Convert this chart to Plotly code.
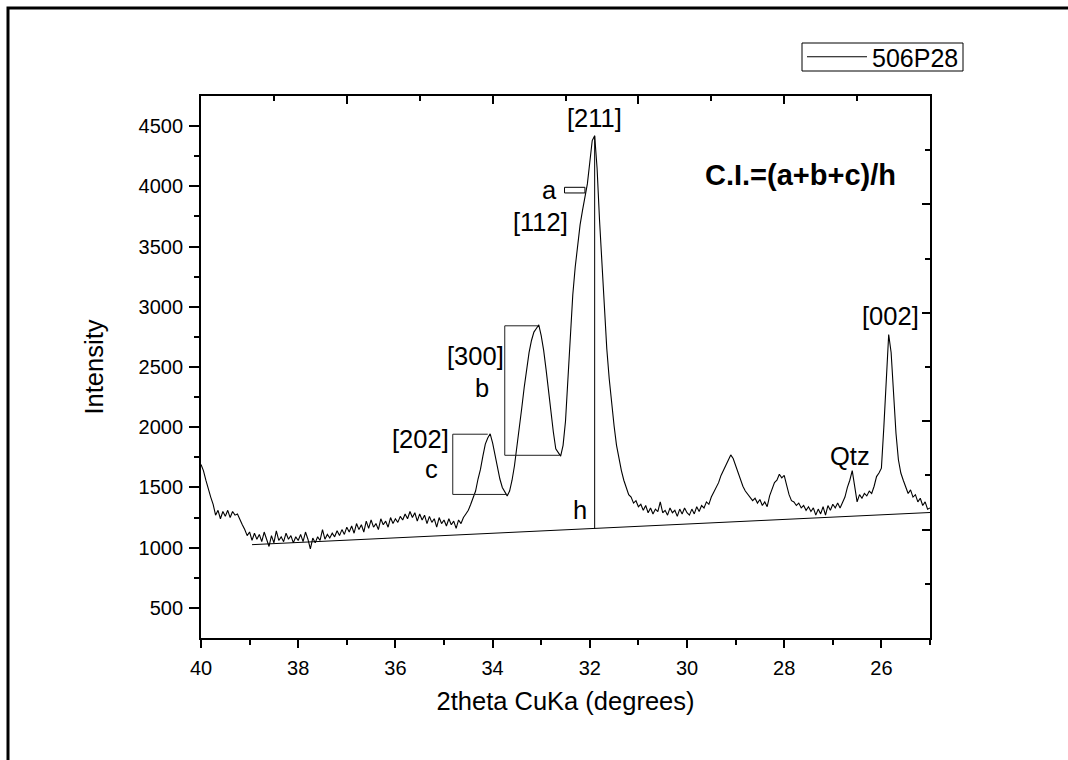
import plotly.graph_objects as go

# ---------------- data ----------------
# intensity read from the pattern, 0.05 deg steps from 40.00 down to 25.00
intensity = [
    # 40.00 .. 39.05
    1690, 1640, 1560, 1480, 1420, 1360, 1270, 1310, 1240, 1300, 1260, 1310, 1250, 1300, 1270, 1280, 1230, 1190, 1150, 1100,
    # 39.00 .. 38.05
    1130, 1060, 1120, 1070, 1110, 1050, 1130, 1060, 1010, 1100, 1040, 1140, 1060, 1090, 1050, 1120, 1070, 1100, 1040, 1090,
    # 38.00 .. 37.05
    1060, 1110, 1050, 1130, 1070, 990, 1080, 1040, 1090, 1060, 1150, 1070, 1110, 1080, 1120, 1090, 1140, 1100, 1150, 1110,
    # 37.00 .. 36.05
    1170, 1130, 1180, 1120, 1200, 1150, 1190, 1130, 1220, 1160, 1230, 1170, 1200, 1150, 1240, 1190, 1220, 1170, 1250, 1200,
    # 36.00 .. 35.05
    1240, 1210, 1260, 1230, 1280, 1240, 1300, 1250, 1290, 1220, 1280, 1230, 1270, 1200, 1260, 1210, 1240, 1170, 1250, 1200,
    # 35.00 .. 34.05
    1230, 1180, 1240, 1190, 1220, 1160, 1230, 1200, 1250, 1280, 1310, 1360, 1420, 1470, 1570, 1650, 1760, 1860, 1910, 1945,
    # 34.00 .. 33.05
    1870, 1760, 1660, 1570, 1500, 1460, 1430, 1470, 1560, 1680, 1830, 1990, 2160, 2330, 2490, 2620, 2720, 2790, 2820, 2850,
    # 33.00 .. 32.05
    2760, 2640, 2480, 2290, 2110, 1960, 1820, 1790, 1760, 1850, 2050, 2400, 2780, 3100, 3330, 3530, 3680, 3800, 3910, 4020,
    # 32.00 .. 31.05
    4200, 4380, 4420, 4150, 3720, 3350, 2950, 2650, 2400, 2180, 2010, 1850, 1730, 1640, 1560, 1490, 1440, 1420, 1370, 1390,
    # 31.00 .. 30.05
    1340, 1360, 1310, 1350, 1290, 1330, 1280, 1320, 1300, 1380, 1290, 1310, 1270, 1330, 1290, 1310, 1260, 1320, 1280, 1330,
    # 30.00 .. 29.05
    1290, 1270, 1320, 1280, 1340, 1300, 1350, 1330, 1380, 1360, 1420, 1460, 1500, 1540, 1600, 1640, 1690, 1720, 1770, 1740,
    # 29.00 .. 28.05
    1680, 1620, 1560, 1510, 1470, 1440, 1420, 1390, 1410, 1370, 1400, 1350, 1380, 1340, 1430, 1490, 1540, 1560, 1610, 1580,
    # 28.00 .. 27.05
    1600, 1520, 1440, 1390, 1380, 1350, 1370, 1330, 1350, 1310, 1340, 1300, 1330, 1270, 1320, 1280, 1340, 1270, 1350, 1310,
    # 27.00 .. 26.05
    1360, 1330, 1370, 1330, 1380, 1420, 1500, 1560, 1640, 1520, 1380, 1440, 1410, 1450, 1430, 1470, 1450, 1510, 1590, 1620,
    # 26.00 .. 25.05
    1660, 2000, 2400, 2770, 2620, 2250, 1950, 1730, 1620, 1560, 1510, 1450, 1480, 1420, 1440, 1380, 1410, 1350, 1380, 1320,
    # 25.00
    1330,
]
scan_start, scan_step = 40.0, 0.05
two_theta = [round(scan_start - scan_step * i, 2) for i in range(len(intensity))]

series_name = "506P28"

# baseline drawn under the pattern
baseline_x = [38.95, 25.0]
baseline_y = [1025, 1292]
# height line h at the [211] peak
h_x = 31.90
h_y = [1160, 4420]
# bracket c around [202]
c_left, c_top_end, c_bot_end = 34.82, 34.10, 33.69
c_top, c_bot = 1942, 1442
# bracket b around [300]
b_left, b_top_end, b_bot_end = 33.75, 33.07, 32.62
b_top, b_bot = 2842, 1767
# small marker for a at [112]
a_x = [32.52, 32.10]
a_y = [3945, 3992]

labels = [
    ("[211]", 31.91, 4566),
    ("a", 32.82, 3969),
    ("[112]", 33.02, 3703),
    ("[300]", 34.36, 2591),
    ("b", 34.22, 2325),
    ("[202]", 35.49, 1902),
    ("c", 35.25, 1653),
    ("h", 32.20, 1313),
    ("Qtz", 26.65, 1761),
    ("[002]", 25.82, 2923),
]
formula_text = ("C.I.=(a+b+c)/h", 27.67, 4093)

x_range = [40, 25]
y_range = [250, 4750]
x_major = [40, 38, 36, 34, 32, 30, 28, 26]
x_minor = [39, 37, 35, 33, 31, 29, 27, 25]
y_major = [500, 1000, 1500, 2000, 2500, 3000, 3500, 4000, 4500]
y_minor = [750, 1250, 1750, 2250, 2750, 3250, 3750, 4250]
top_major = [37, 34, 31, 28]
top_minor = [38.5, 35.5, 32.5, 29.5, 26.5]
right_major = [1150, 2050, 2950, 3850]
right_minor = [700, 1600, 2500, 3400, 4300]

# ---------------- figure ----------------
FONT = "Arial, Liberation Sans, sans-serif"
W, H = 1068, 760
ML, MR, MT, MB = 201, 138, 96, 122
PW, PH = W - ML - MR, H - MT - MB

def px_to_paper_x(px):
    return (px - ML) / PW

def px_to_paper_y(py):
    return (H - MB - py) / PH

fig = go.Figure()
fig.add_trace(go.Scatter(
    x=two_theta, y=intensity, mode="lines", name=series_name,
    line=dict(color="black", width=1.1),
))
# invisible trace so the mirrored top/right tick axes render
fig.add_trace(go.Scatter(
    x=[x_range[0]], y=[y_range[0]], xaxis="x2", yaxis="y2", mode="markers",
    marker=dict(opacity=0), showlegend=False, hoverinfo="skip",
))

shapes = []
line_k = dict(color="black", width=1)
box_k = dict(color="#222", width=1)
shapes.append(dict(type="line", xref="x", yref="y", x0=baseline_x[0], y0=baseline_y[0],
                   x1=baseline_x[1], y1=baseline_y[1], line=line_k))
shapes.append(dict(type="line", xref="x", yref="y", x0=h_x, y0=h_y[0], x1=h_x, y1=h_y[1], line=line_k))
for left, top_end, bot_end, top, bot in [(c_left, c_top_end, c_bot_end, c_top, c_bot),
                                         (b_left, b_top_end, b_bot_end, b_top, b_bot)]:
    shapes.append(dict(type="line", xref="x", yref="y", x0=left, y0=top, x1=top_end, y1=top, line=box_k))
    shapes.append(dict(type="line", xref="x", yref="y", x0=left, y0=top, x1=left, y1=bot, line=box_k))
    shapes.append(dict(type="line", xref="x", yref="y", x0=left, y0=bot, x1=bot_end, y1=bot, line=box_k))
shapes.append(dict(type="rect", xref="x", yref="y", x0=a_x[0], x1=a_x[1], y0=a_y[0], y1=a_y[1],
                   line=dict(color="black", width=1), fillcolor="white"))
# page frame: only its left and top edges fall inside the page
shapes.append(dict(type="rect", xref="paper", yref="paper",
                   x0=px_to_paper_x(8), x1=px_to_paper_x(W + 40),
                   y0=px_to_paper_y(H + 40), y1=px_to_paper_y(8),
                   line=dict(color="black", width=3), fillcolor="rgba(0,0,0,0)"))
# compact border around the legend entry
shapes.append(dict(type="rect", xref="paper", yref="paper",
                   x0=px_to_paper_x(802), x1=px_to_paper_x(963),
                   y0=px_to_paper_y(71), y1=px_to_paper_y(43),
                   line=dict(color="black", width=1), fillcolor="rgba(0,0,0,0)"))

annotations = []
for txt, xv, yv in labels:
    annotations.append(dict(text=txt, x=xv, y=yv, xref="x", yref="y", showarrow=False,
                            xanchor="center", yanchor="middle",
                            font=dict(family=FONT, size=25.5, color="black")))
annotations.append(dict(text="<b>%s</b>" % formula_text[0], x=formula_text[1], y=formula_text[2],
                        xref="x", yref="y", showarrow=False, xanchor="center", yanchor="middle",
                        font=dict(family=FONT, size=29, color="black")))

axis_common = dict(showgrid=False, zeroline=False, color="black")
fig.update_layout(
    width=W, height=H,
    margin=dict(l=ML, r=MR, t=MT, b=MB, autoexpand=False),
    paper_bgcolor="white", plot_bgcolor="white",
    font=dict(family=FONT, size=20, color="black"),
    showlegend=True,
    legend=dict(x=px_to_paper_x(802), y=px_to_paper_y(34), xanchor="left", yanchor="top",
                borderwidth=0, bgcolor="rgba(0,0,0,0)",
                font=dict(family=FONT, size=25), itemwidth=60, tracegroupgap=0),
    xaxis=dict(range=x_range, tickmode="array", tickvals=x_major, ticktext=[str(v) for v in x_major],
               ticks="outside", ticklen=8, tickwidth=1.5, showline=True, linewidth=1.8, linecolor="black",
               mirror=True, minor=dict(tickmode="array", tickvals=x_minor, ticks="outside", ticklen=5,
                                       tickwidth=1.5, tickcolor="black"),
               tickfont=dict(size=20), ticklabelstandoff=3,
               title=dict(text="2theta CuKa (degrees)", font=dict(size=25.5), standoff=14),
               **axis_common),
    yaxis=dict(range=y_range, tickmode="array", tickvals=y_major, ticktext=[str(v) for v in y_major],
               ticks="outside", ticklen=10, tickwidth=1.5, showline=True, linewidth=1.8, linecolor="black",
               mirror=True, minor=dict(tickmode="array", tickvals=y_minor, ticks="outside", ticklen=5,
                                       tickwidth=1.5, tickcolor="black"),
               tickfont=dict(size=20), ticklabelstandoff=2,
               title=dict(text="Intensity", font=dict(size=25.5), standoff=28),
               **axis_common),
    xaxis2=dict(range=x_range, overlaying="x", side="top", anchor="y", tickmode="array", tickvals=top_major,
                ticks="inside", ticklen=8, tickwidth=1.5, showticklabels=False, showline=False,
                minor=dict(tickmode="array", tickvals=top_minor, ticks="inside", ticklen=5,
                           tickwidth=1.5, tickcolor="black"),
                **axis_common),
    yaxis2=dict(range=y_range, overlaying="y", side="right", anchor="x", tickmode="array", tickvals=right_major,
                ticks="inside", ticklen=8, tickwidth=1.5, showticklabels=False, showline=False,
                minor=dict(tickmode="array", tickvals=right_minor, ticks="inside", ticklen=5,
                           tickwidth=1.5, tickcolor="black"),
                **axis_common),
    shapes=shapes,
    annotations=annotations,
)

fig.write_html("out.html", config={"displayModeBar": False})
